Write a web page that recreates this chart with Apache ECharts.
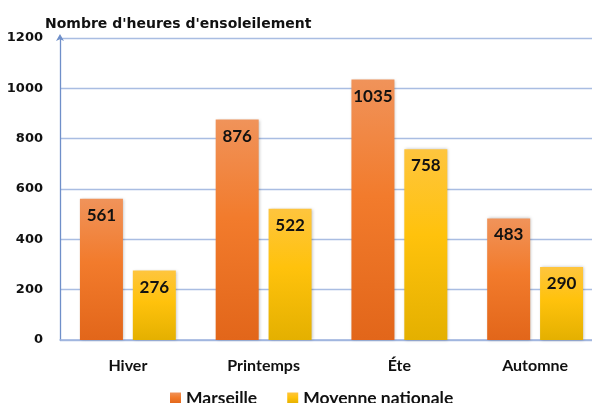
<!DOCTYPE html>
<html>
<head>
<meta charset="utf-8">
<script src="https://cdn.jsdelivr.net/npm/echarts@6/dist/echarts.min.js"></script>
<style>
  html, body { margin: 0; padding: 0; background: #fff; }
  #chart { width: 592px; height: 403px; }
</style>
</head>
<body>
<div id="chart"></div>
<script>
const saisons = ['Hiver', 'Printemps', 'Éte', 'Automne']
const marseille = [561, 876, 1035, 483]
const moyenne = [276, 522, 758, 290]

const myChart = echarts.init(document.getElementById('chart'))

const labelStyle = {
  show: true,
  position: 'insideTop',
  distance: 8,
  color: '#111',
  fontFamily: 'Lato',
  fontWeight: 'bold',
  fontSize: 17
}

const option = {
  animation: false,
  title: {
    text: "Nombre d'heures d'ensoleilement",
    left: 40,
    top: 12,
    textStyle: {
      fontFamily: 'DejaVu Sans',
      fontWeight: 'bold',
      fontSize: 14,
      color: '#111'
    }
  },
  legend: {
    top: 389,
    left: 170,
    padding: 0,
    itemWidth: 11,
    itemHeight: 11,
    itemGap: 30,
    icon: 'rect',
    textStyle: {
      fontFamily: 'Lato',
      fontWeight: 'bold',
      fontSize: 17.5,
      color: '#111'
    },
    data: ['Marseille', 'Moyenne nationale']
  },
  grid: {
    left: 60,
    width: 543,
    top: 38,
    bottom: 63,
    outerBoundsMode: 'none'
  },
  xAxis: {
    type: 'category',
    data: saisons,
    axisLine: { lineStyle: { color: '#9fb4de', width: 1.5 } },
    axisTick: { show: false },
    axisLabel: {
      margin: 18,
      fontFamily: 'Lato',
      fontWeight: 'bold',
      fontSize: 16,
      color: '#111'
    }
  },
  yAxis: {
    type: 'value',
    min: 0,
    max: 1200,
    interval: 200,
    axisLine: {
      show: true,
      symbol: ['none', 'arrow'],
      symbolSize: [6, 7],
      symbolOffset: [0, 4],
      lineStyle: { color: '#6f8fc9', width: 1.3 }
    },
    splitLine: { lineStyle: { color: '#a9bde2', width: 1.3 } },
    axisLabel: {
      margin: 17,
      formatter: v => String(v),
      fontFamily: 'DejaVu Sans',
      fontWeight: 'bold',
      fontSize: 13,
      color: '#111'
    }
  },
  series: [
    {
      name: 'Marseille',
      type: 'bar',
      data: marseille,
      barWidth: 43,
      barGap: '23%',
      label: labelStyle,
      itemStyle: {
        color: new echarts.graphic.LinearGradient(0, 0, 0, 1, [
          { offset: 0, color: '#f0935a' },
          { offset: 0.45, color: '#f27b2c' },
          { offset: 1, color: '#e2661a' }
        ]),
        shadowColor: 'rgba(0,0,0,0.25)',
        shadowBlur: 3,
        shadowOffsetX: 1
      }
    },
    {
      name: 'Moyenne nationale',
      type: 'bar',
      data: moyenne,
      barWidth: 43,
      label: labelStyle,
      itemStyle: {
        color: new echarts.graphic.LinearGradient(0, 0, 0, 1, [
          { offset: 0, color: '#fec53e' },
          { offset: 0.45, color: '#ffc20c' },
          { offset: 1, color: '#e4b000' }
        ]),
        shadowColor: 'rgba(0,0,0,0.25)',
        shadowBlur: 3,
        shadowOffsetX: 1
      }
    }
  ]
}

myChart.setOption(option)
window.addEventListener('resize', () => myChart.resize(), false)
</script>
</body>
</html>
